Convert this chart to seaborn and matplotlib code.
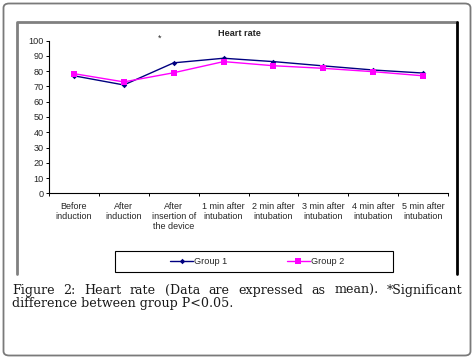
import pandas as pd
import matplotlib.pyplot as plt
import seaborn as sns
from matplotlib.patches import FancyBboxPatch, Rectangle
from matplotlib.lines import Line2D

# values (mean heart rate)
times = ["Before\ninduction", "After\ninduction", "After\ninsertion of\nthe device",
         "1 min after\nintubation", "2 min after\nintubation", "3 min after\nintubation",
         "4 min after\nintubation", "5 min after\nintubation"]
group1 = [77, 71, 85.5, 88.5, 86.3, 83.5, 80.8, 78.8]
group2 = [78.4, 73, 79, 86.3, 83.6, 81.9, 79.7, 77]

df = pd.DataFrame({
    "pos": list(range(len(times))) * 2,
    "hr": group1 + group2,
    "group": ["Group 1"] * len(times) + ["Group 2"] * len(times),
})

sns.set_theme(style="white")
plt.rcParams['font.family'] = ['Liberation Sans', 'DejaVu Sans']

W, H = 476, 362
fig = plt.figure(figsize=(W / 100, H / 100), dpi=100)

def fx(x):
    return x / W

def fy(y):
    return 1 - y / H

# outer rounded border
fig.patches.append(FancyBboxPatch((fx(3.5), fy(355.5)), fx(467), (355.5 - 3.5) / H,
                                  boxstyle="round,pad=0,rounding_size=0.012",
                                  transform=fig.transFigure, fill=False,
                                  edgecolor="#7a7a7a", linewidth=1.3))
# chart frame (gray top/left, black right)
fig.lines.append(Line2D([fx(17), fx(17), fx(457)], [fy(274), fy(22), fy(22)],
                        transform=fig.transFigure, color="#808080", linewidth=2))
fig.lines.append(Line2D([fx(457), fx(457)], [fy(22), fy(274)],
                        transform=fig.transFigure, color="black", linewidth=2))

ax = fig.add_axes([fx(49), fy(193.3), fx(448) - fx(49), (193.3 - 40.7) / H])

sns.lineplot(data=df[df.group == "Group 1"], x="pos", y="hr", ax=ax, color="#000080",
             marker="D", markersize=2.8, markeredgewidth=0, linewidth=1.0, label="Group 1")
sns.lineplot(data=df[df.group == "Group 2"], x="pos", y="hr", ax=ax, color="#ff00ff",
             marker="s", markersize=4, markeredgewidth=0, linewidth=1.0, label="Group 2")

ax.set_xlim(-0.5, len(times) - 0.5)
ax.set_ylim(0, 100)
ax.set_yticks(range(0, 101, 10))
ax.set_xticks([i - 0.5 for i in range(len(times) + 1)])
ax.set_xticklabels([])
ax.set_xticks(range(len(times)), minor=True)
ax.set_xticklabels(times, minor=True, fontsize=6.5, linespacing=1.15)
ax.tick_params(axis="x", which="minor", length=0, pad=6)
ax.tick_params(axis="both", which="major", length=2.5, width=0.7, direction="out",
               color="black", labelsize=6.6, pad=1.5)
ax.tick_params(axis="x", which="major", bottom=True)
ax.tick_params(axis="y", left=True)
ax.set_xlabel("")
ax.set_ylabel("")
for s in ["top", "right"]:
    ax.spines[s].set_visible(False)
for s in ["left", "bottom"]:
    ax.spines[s].set_color("black")
    ax.spines[s].set_linewidth(0.8)

handles, labels = ax.get_legend_handles_labels()
ax.legend_.remove()
fig.legend(handles, labels, loc="center", bbox_to_anchor=(fx(257), fy(261.5)),
           ncol=2, frameon=False, fontsize=6.6, handlelength=2.5,
           handletextpad=0.1, columnspacing=6.5)
fig.patches.append(Rectangle((fx(115), fy(272)), fx(393) - fx(115), (272 - 251) / H,
                             transform=fig.transFigure, fill=False,
                             edgecolor="black", linewidth=0.8))

fig.text(fx(239), fy(34), "Heart rate", fontsize=6.6, fontweight="bold",
         ha="center", va="center")
fig.text(fx(160), fy(38), "*", fontsize=6.6, ha="center", va="center")

# caption, first line justified
line1 = "Figure 2: Heart rate (Data are expressed as mean). *Significant".split()
line2 = "difference between group P<0.05."
cap_kw = dict(fontsize=9.1, family=["DejaVu Serif"], color="#1a1a1a", va="baseline")
renderer = fig.canvas.get_renderer()
words = [fig.text(0, fy(294), w, **cap_kw) for w in line1]
widths = [t.get_window_extent(renderer).width for t in words]
left, right = 12, 463
gap = (right - left - sum(widths)) / (len(words) - 1)
x = left
for t, w in zip(words, widths):
    t.set_x(fx(x))
    x += w + gap
fig.text(fx(left), fy(307.5), line2, **cap_kw)

plt.savefig("out.png", dpi=100)
